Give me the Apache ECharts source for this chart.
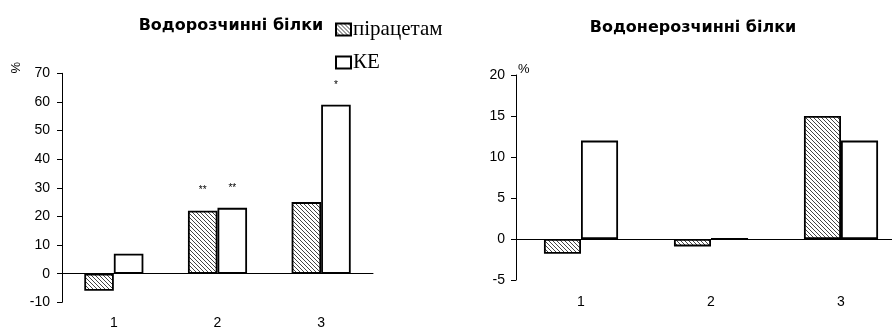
<!DOCTYPE html>
<html>
<head>
<meta charset="utf-8">
<script src="https://cdn.jsdelivr.net/npm/echarts@6/dist/echarts.min.js"></script>
<style>html,body{margin:0;padding:0;background:#fff}#c{width:892px;height:329px}</style>
</head>
<body>
<div id="c"></div>
<script>
// ---- data ----
const categories = ['1', '2', '3'];
const seriesNames = ['пірацетам', 'КЕ'];
const titles = ['Водорозчинні білки', 'Водонерозчинні білки'];
const solublePiracetam = [-6, 22, 25];
const solubleKE = [7, 23, 59];
const solublePiracetamMarks = ['', '**', ''];
const solubleKEMarks = ['', '**', '*'];
const insolublePiracetam = [-1.8, -0.9, 15];
const insolubleKE = [12, 0, 12];

// hatch pattern
function hatch() {
  const c = document.createElement('canvas');
  c.width = 4; c.height = 4;
  const g = c.getContext('2d');
  g.fillStyle = '#fff'; g.fillRect(0, 0, 4, 4);
  g.strokeStyle = '#444'; g.lineWidth = 1;
  g.beginPath();
  g.moveTo(-1, -1); g.lineTo(5, 5);
  g.moveTo(-1, 3); g.lineTo(1, 5);
  g.moveTo(3, -1); g.lineTo(5, 1);
  g.stroke();
  return c;
}
const hatchColor = { image: hatch(), repeat: 'repeat' };

const chart = echarts.init(document.getElementById('c'), null, { renderer: 'canvas' });
const axisFont = { fontFamily: 'Liberation Sans, Arial', fontSize: 14, color: '#000' };
const lineStyle = { color: '#000', width: 1 };
const titleFont = { fontFamily: 'DejaVu Sans', fontWeight: 'bold', fontSize: 16, color: '#000' };

function markLabel(marks) {
  return {
    show: true, position: 'top', distance: 15,
    fontFamily: 'Liberation Sans, Arial', fontSize: 10, color: '#000',
    formatter: p => marks[p.dataIndex]
  };
}

const pStyle = { color: hatchColor, borderColor: '#000', borderWidth: 1.8 };
const kStyle = { color: '#fff', borderColor: '#000', borderWidth: 1.8 };

chart.setOption({
  animation: false,
  title: [
    { text: titles[0], left: 226, top: 13, textAlign: 'center', textStyle: titleFont },
    { text: titles[1], left: 688, top: 15, textAlign: 'center', textStyle: titleFont }
  ],
  legend: {
    data: seriesNames, orient: 'vertical', left: 335, top: 19, padding: 0,
    itemWidth: 15, itemHeight: 12, itemGap: 12, icon: 'rect',
    textStyle: { fontFamily: 'Liberation Serif, Times New Roman', fontSize: 21, color: '#000', padding: [0, 0, 0, -3] },
    selectedMode: false
  },
  graphic: [
    { type: 'text', left: 10, top: 62, rotation: Math.PI / 2,
      style: { text: '%', font: '13px Liberation Sans, Arial', fill: '#000' } },
    { type: 'text', left: 518, top: 63,
      style: { text: '%', font: '13px Liberation Sans, Arial', fill: '#000' } }
  ],
  grid: [
    { left: 62, top: 73.3, width: 311, height: 229, outerBoundsMode: 'none', containLabel: false },
    { left: 516, top: 75, width: 390, height: 205, outerBoundsMode: 'none', containLabel: false }
  ],
  xAxis: [
    { type: 'category', gridIndex: 0, data: categories,
      axisLine: { lineStyle }, axisTick: { length: 5, lineStyle },
      axisLabel: Object.assign({ margin: 14 }, axisFont) },
    { type: 'category', gridIndex: 1, data: categories,
      axisLine: { lineStyle }, axisTick: { length: 5, lineStyle },
      axisLabel: Object.assign({ margin: 15 }, axisFont) }
  ],
  yAxis: [
    { type: 'value', gridIndex: 0, min: -10, max: 70, interval: 10,
      axisLine: { show: true, lineStyle }, axisTick: { show: true, length: 5, lineStyle },
      splitLine: { show: false }, axisLabel: Object.assign({ margin: 12 }, axisFont) },
    { type: 'value', gridIndex: 1, min: -5, max: 20, interval: 5,
      axisLine: { show: true, lineStyle }, axisTick: { show: true, length: 5, lineStyle },
      splitLine: { show: false }, axisLabel: Object.assign({ margin: 11 }, axisFont) }
  ],
  series: [
    { name: seriesNames[0], type: 'bar', xAxisIndex: 0, yAxisIndex: 0, data: solublePiracetam,
      barGap: '0%', barCategoryGap: '43%', itemStyle: pStyle, label: markLabel(solublePiracetamMarks) },
    { name: seriesNames[1], type: 'bar', xAxisIndex: 0, yAxisIndex: 0, data: solubleKE,
      barGap: '0%', barCategoryGap: '43%', itemStyle: kStyle, label: markLabel(solubleKEMarks) },
    { name: seriesNames[0], type: 'bar', xAxisIndex: 1, yAxisIndex: 1, data: insolublePiracetam,
      barGap: '0%', barCategoryGap: '43%', itemStyle: pStyle },
    { name: seriesNames[1], type: 'bar', xAxisIndex: 1, yAxisIndex: 1, data: insolubleKE,
      barGap: '0%', barCategoryGap: '43%', itemStyle: kStyle }
  ]
});
</script>
</body>
</html>
